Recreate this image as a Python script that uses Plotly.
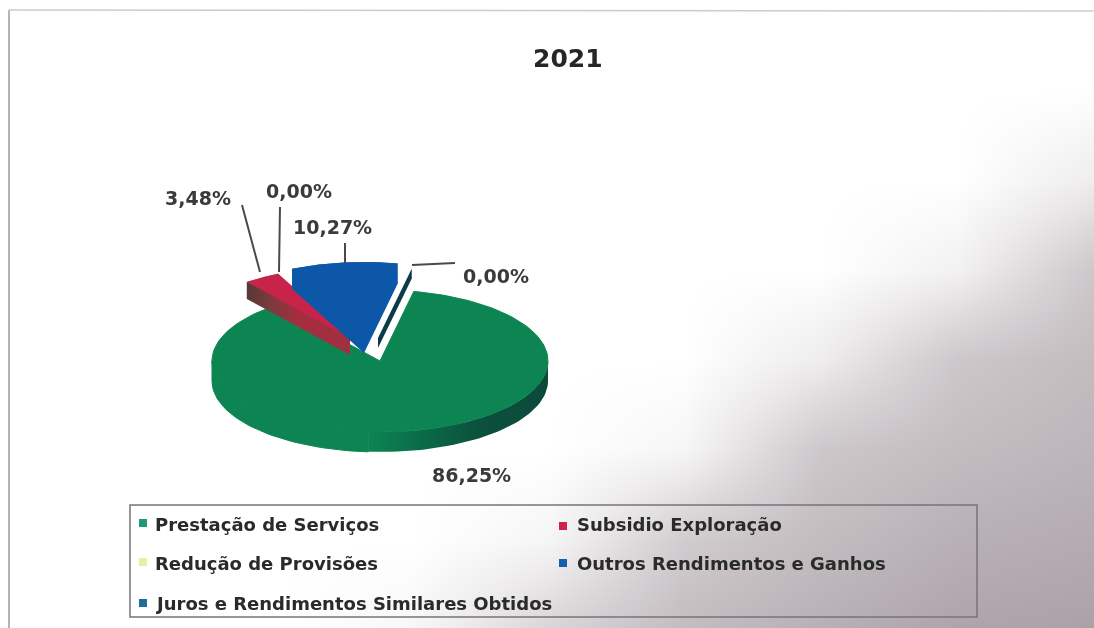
import math
import plotly.graph_objects as go

# ---- data ----
title = "2021"
categories = ["Prestação de Serviços", "Subsidio Exploração", "Redução de Provisões",
              "Outros Rendimentos e Ganhos", "Juros e Rendimentos Similares Obtidos"]
values = [86.25, 3.48, 0.00, 10.27, 0.00]
legend_colors = ["#1f9a7d", "#cf2050", "#e8efa0", "#1560b0", "#1f6f96"]

# ---- style and geometry ----
top_colors = ["#0c8552", "#c8234a", "#e8efa0", "#0d57a8", "#0c3a4a"]
side_colors = [None, "#a52d40", "#e8efa0", "#0d57a8", "#0c3a4a"]
explode_x = [0, -30, -30, -16, -2]
explode_y = [0, -23, -23, -28, -23]
depths = [20, 17, 0, 20, 10]
CX, CY, RX, RY = 380, 361, 168, 71
START = 11.6

# background scan shading: darkness on a regular grid
bg_x = [0, 137, 273, 410, 547, 684, 820, 957, 1094]
bg_y = [0, 90, 180, 270, 360, 450, 540, 628]
bg_dark = [
    [0, 0, 0, 0, 0, 0, 0, 0, 0],
    [0, 0, 0, 0, 0, 0, 0, 0, 0],
    [0, 0, 0, 0, 0, 0, 0, 0, 0.20],
    [0, 0, 0, 0, 0, 0, 0, 0.15, 0.60],
    [0, 0, 0, 0, 0, 0, 0.20, 0.60, 0.72],
    [0, 0, 0, 0, 0, 0.10, 0.60, 0.72, 0.80],
    [0, 0, 0, 0, 0.10, 0.55, 0.72, 0.85, 0.90],
    [0, 0, 0, 0.08, 0.45, 0.72, 0.85, 0.97, 1.0],
]


def pt(angle, ox=0, oy=0, dz=0):
    a = math.radians(angle)
    return (CX + RX * math.sin(a) + ox, CY - RY * math.cos(a) + oy + dz)


def hull(points):
    pts = sorted(set(points))
    def half(seq):
        out = []
        for p in seq:
            while len(out) > 1 and ((out[-1][0]-out[-2][0])*(p[1]-out[-2][1]) -
                                    (out[-1][1]-out[-2][1])*(p[0]-out[-2][0])) <= 0:
                out.pop()
            out.append(p)
        return out[:-1]
    return half(pts) + half(pts[::-1])


fig = go.Figure()
fig.add_trace(go.Heatmap(x=bg_x, y=bg_y, z=bg_dark, zmin=0, zmax=1, zsmooth="best",
                         colorscale=[[0, "#ffffff"], [1, "#aba2a7"]], showscale=False,
                         hoverinfo="skip"))


def poly(points, color, name, lw=0, **kw):
    xs = [p[0] for p in points] + [points[0][0]]
    ys = [p[1] for p in points] + [points[0][1]]
    fig.add_trace(go.Scatter(x=xs, y=ys, mode="lines", fill="toself", fillcolor=color,
                             line=dict(width=lw, color=color), name=name,
                             showlegend=False, hoverinfo="skip", **kw))


# slices clockwise from START; each angle comes from the values
angle = START
slices = []
for v in values:
    sweep = v / sum(values) * 360
    slices.append((angle, angle + sweep))
    angle += sweep

# green rim: only the front half of the disc shows it, dark to the right
a0, a1 = slices[0]
turn = 184
left = [turn + i * 2 for i in range(44)]
right = [90 + i * 2 for i in range(48)]
poly([pt(a) for a in left] + [pt(a, dz=depths[0]) for a in reversed(left)],
     top_colors[0], categories[0], lw=1)
poly([pt(a) for a in right] + [pt(a, dz=depths[0]) for a in reversed(right)],
     top_colors[0], categories[0],
     fillgradient=dict(type="horizontal",
                       colorscale=[[0, "#0c8552"], [0.3, "#0b6a48"], [0.65, "#0b4f3c"],
                                   [1, "#0d4a3c"]]))
arc = [a0 + (a1 - a0) * i / 160 for i in range(161)]
poly([(CX, CY)] + [pt(a) for a in arc], top_colors[0], categories[0], lw=1)

for i in [1, 3, 4]:
    a0, a1 = slices[i]
    ox, oy, dz = explode_x[i], explode_y[i], depths[i]
    arc = [a0 + (a1 - a0) * k / 30 for k in range(31)]
    apex = (CX + ox, CY + oy)
    top = [apex] + [pt(a, ox, oy) for a in arc]
    side = hull(top + [(x, y + dz) for x, y in top])
    extra = {}
    if i == 1:
        extra = dict(fillgradient=dict(type="horizontal",
                     colorscale=[[0, "#553836"], [0.22, "#7a3b3c"], [0.5, "#a52d40"],
                                 [1, "#a0303f"]]))
    poly(side, side_colors[i], categories[i], **extra)
    if values[i] > 0:
        poly(top, top_colors[i], categories[i])


# percent labels
def pct(v):
    return f"{v:.2f}%".replace(".", ",")


label_pos = [(471, 475), (198, 198), (299, 191), (332, 227), (496, 276)]
leaders = [(242, 205, 260, 272), (280, 207, 279, 272), (345, 243, 345, 263),
           (455, 263, 412, 265)]
annotations = [dict(text="<b>" + pct(v) + "</b>", x=p[0], y=p[1], xref="x", yref="y",
                    showarrow=False,
                    font=dict(family="DejaVu Sans", size=19, color="#3a3a3a"))
               for v, p in zip(values, label_pos)]
annotations.append(dict(text="<b>" + title + "</b>", x=568, y=58, xref="x", yref="y",
                        showarrow=False,
                        font=dict(family="DejaVu Sans", size=25, color="#262626")))

# legend box content
leg_text = [(153, 524), (575, 524), (153, 563), (575, 563), (153, 603)]
leg_mark = [(143, 523), (563, 526), (143, 562), (563, 563), (143, 603)]
for c, p in zip(categories, leg_text):
    annotations.append(dict(text="<b>" + c + "</b>", x=p[0], y=p[1], xref="x", yref="y",
                            xanchor="left", showarrow=False,
                            font=dict(family="DejaVu Sans", size=18, color="#2a2a2a")))
fig.add_trace(go.Scatter(x=[p[0] for p in leg_mark], y=[p[1] for p in leg_mark],
                         mode="markers", showlegend=False, hoverinfo="skip",
                         marker=dict(symbol="square", size=8, color=legend_colors)))

shapes = [dict(type="line", x0=a, y0=b, x1=c, y1=d, xref="x", yref="y",
               line=dict(color="#4a4a4a", width=2)) for a, b, c, d in leaders]
shapes.append(dict(type="rect", x0=130, y0=505, x1=977, y1=617, xref="x", yref="y",
                   line=dict(color="#77747a", width=1.5)))
shapes.append(dict(type="line", x0=9, y0=10, x1=9, y1=628, xref="x", yref="y",
                   line=dict(color="#b5b5b5", width=2)))
shapes.append(dict(type="line", x0=9, y0=10, x1=1094, y1=11, xref="x", yref="y",
                   line=dict(color="#cccccc", width=1.5)))

fig.update_layout(
    width=1094, height=628, margin=dict(l=0, r=0, t=0, b=0),
    paper_bgcolor="white", plot_bgcolor="white", showlegend=False,
    xaxis=dict(range=[0, 1094], visible=False, fixedrange=True),
    yaxis=dict(range=[628, 0], visible=False, fixedrange=True),
    annotations=annotations, shapes=shapes,
)
fig.write_html("out.html", config=dict(displayModeBar=False),
               post_script="document.body.style.margin='0';document.body.style.overflow='hidden';"
                           "document.querySelector('.plotly-graph-div').style.filter='blur(0.7px)';")
